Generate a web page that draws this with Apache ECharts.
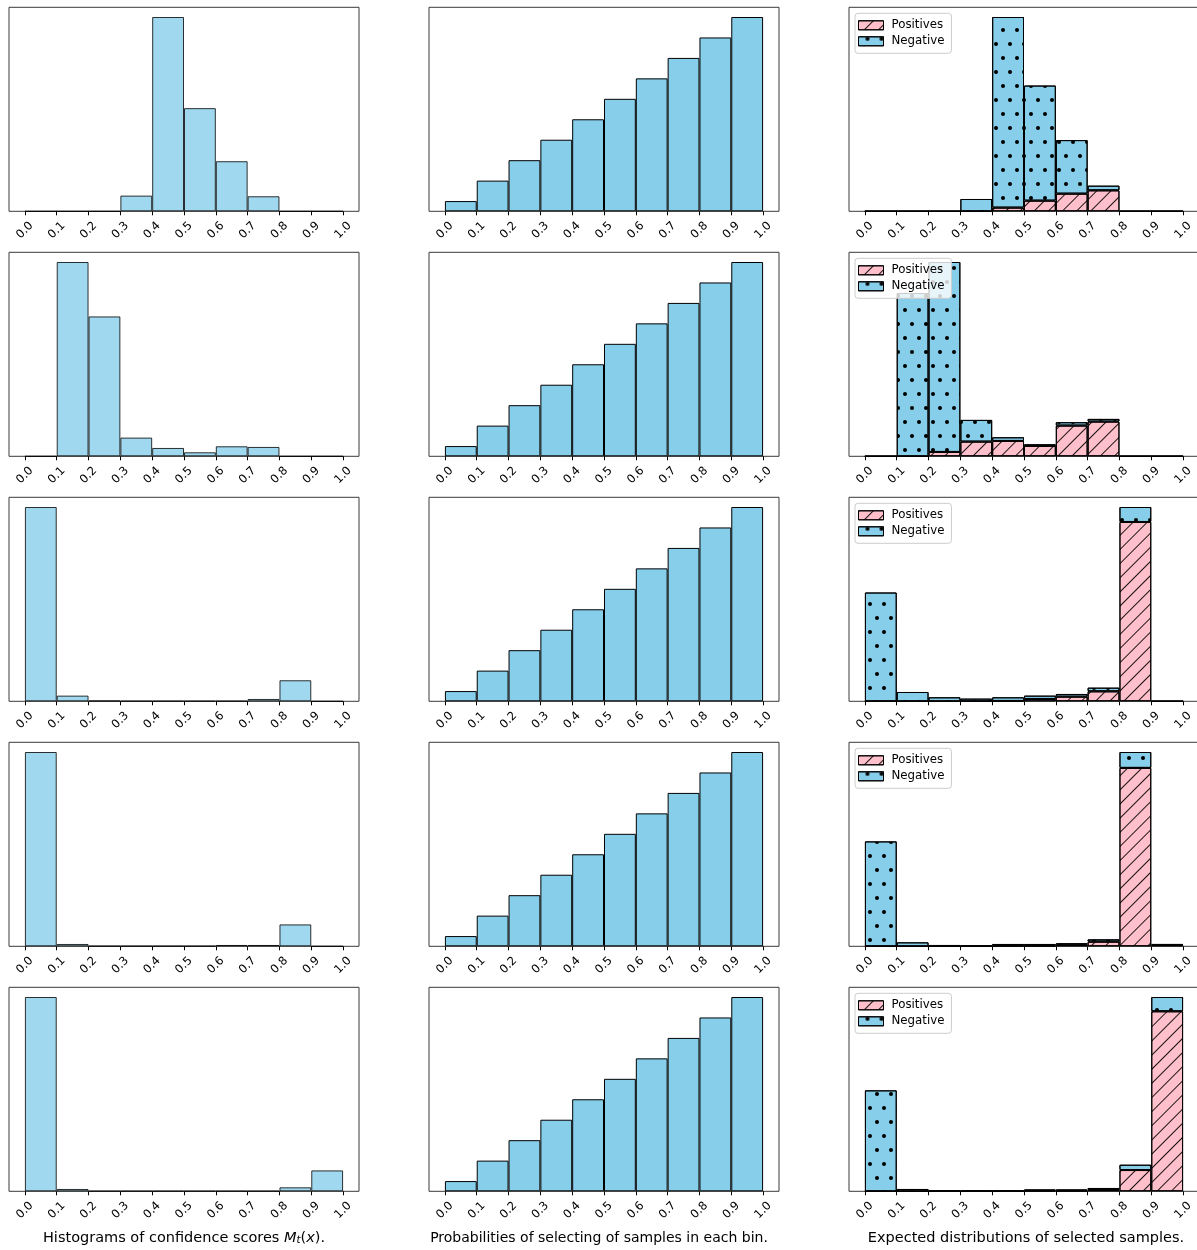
<!DOCTYPE html>
<html>
<head>
<meta charset="utf-8">
<script src="https://cdn.jsdelivr.net/npm/echarts@6/dist/echarts.min.js"></script>
<style>
  html, body { margin: 0; padding: 0; background: #ffffff; }
  #chart { width: 1197px; height: 1250px; }
</style>
</head>
<body>
<div id="chart"></div>
<script>
// Bin edges / tick labels on every x axis
const tickLabels = ['0.0', '0.1', '0.2', '0.3', '0.4', '0.5', '0.6', '0.7', '0.8', '0.9', '1.0'];

// Column 1: histograms of confidence scores, one list per round (relative counts)
const confidenceHist = [
  [0, 0, 0, 47, 582, 309, 150, 45, 0, 0],
  [0, 582, 419, 56, 25, 12, 30, 28, 0, 0],
  [582, 17, 2, 1, 1, 1, 1, 7, 63, 0],
  [586, 7, 1, 1, 1, 1, 4, 4, 66, 0],
  [586, 7, 1, 1, 1, 1, 1, 1, 12, 63]
];

// Column 2: probability of selecting a sample from each bin
const selectProb = [0.05, 0.15, 0.25, 0.35, 0.45, 0.55, 0.65, 0.75, 0.85, 0.95];

// Column 3: expected distribution of selected samples (stacked)
const positives = [
  [0, 0, 0, 0, 11, 32, 53, 63, 0, 0],
  [0, 0, 13, 44, 46, 31, 92, 104, 0, 0],
  [0, 0, 0, 0, 1, 7, 14, 30, 539, 0],
  [0, 0, 0, 0, 2, 2, 5, 14, 539, 4],
  [0, 0, 0, 0, 0, 2, 2, 4, 64, 542]
];
const negatives = [
  [0, 0, 0, 37, 573, 346, 161, 14, 0, 0],
  [0, 489, 569, 65, 11, 5, 10, 8, 0, 0],
  [327, 28, 12, 8, 11, 10, 8, 11, 45, 0],
  [317, 12, 4, 2, 5, 5, 4, 7, 48, 3],
  [304, 7, 2, 2, 2, 3, 3, 6, 16, 43]
];

const legendNames = ['Positives', 'Negative'];

const FONT = "'DejaVu Sans', sans-serif";
const SKY = '#87ceeb';
const PINK = '#ffc0cb';
const COL_LEFT = [9, 429, 849];
const ROW_TOP = [7.3, 252.3, 497.3, 742.3, 987.3];
const BOX_W = 350;
const BOX_H = 204;
const PAD = BOX_W * 0.05 / 1.1;   // 5% data margin on both sides of [0, 1]

const tickValues = tickLabels.map(Number);
const binNames = tickLabels.slice(0, -1).map((t, i) => t + '-' + tickLabels[i + 1]);

// hatch patterns: '/' lines for positives, staggered dots for negatives
const hatchDecal = {
  symbol: 'rect', symbolSize: 1, color: 'rgba(0,0,0,0.9)',
  dashArrayX: [1, 0], dashArrayY: [1, 9], rotation: -Math.PI / 4
};
const dotDecal = {
  symbol: 'circle', symbolSize: 1, color: '#000',
  dashArrayX: [[4, 10], [0, 7, 4, 3]], dashArrayY: [4, 10], rotation: 0
};

const grid = [], xAxis = [], yAxis = [], series = [], legend = [];

function addPanel(r, c) {
  const L = COL_LEFT[c], T = ROW_TOP[r];
  const k = grid.length;
  // framed axes with ticks
  grid.push({
    left: L, top: T, width: BOX_W, height: BOX_H,
    show: true, borderColor: '#3a3a3a', borderWidth: 1, backgroundColor: 'rgba(0,0,0,0)',
    containLabel: false, outerBoundsMode: 'none'
  });
  xAxis.push({
    gridIndex: k, type: 'value', min: -0.05, max: 1.05,
    axisLine: { show: false }, splitLine: { show: false },
    axisTick: { show: true, customValues: tickValues, length: 4, lineStyle: { color: '#000', width: 1 } },
    axisLabel: {
      customValues: tickValues,
      formatter: v => tickLabels[Math.round(v * 10)],
      rotate: 45, align: 'center', verticalAlign: 'middle', margin: 19,
      fontSize: 11.6, fontFamily: FONT, color: '#000'
    }
  });
  yAxis.push({ gridIndex: k, type: 'value', min: 0, max: 1, show: false });
  // data region [0, 1] for the bins
  grid.push({
    left: L + PAD, top: T, width: BOX_W - 2 * PAD, height: BOX_H,
    show: false, containLabel: false, outerBoundsMode: 'none'
  });
  xAxis.push({ gridIndex: k + 1, type: 'category', data: binNames, show: false });
  yAxis.push({ gridIndex: k + 1, type: 'value', min: 0, max: v => v.max * 1.05, show: false });
  return k + 1;
}

for (let r = 0; r < 5; r++) {
  // column 1
  let idx = addPanel(r, 0);
  series.push({
    type: 'bar', xAxisIndex: idx, yAxisIndex: idx, data: confidenceHist[r],
    barWidth: '100%', silent: true,
    itemStyle: { color: 'rgba(135,206,235,0.8)', borderColor: 'rgba(0,0,0,0.8)', borderWidth: 1 }
  });
  // column 2
  idx = addPanel(r, 1);
  series.push({
    type: 'bar', xAxisIndex: idx, yAxisIndex: idx, data: selectProb,
    barWidth: '100%', silent: true,
    itemStyle: { color: SKY, borderColor: '#000', borderWidth: 1 }
  });
  // column 3
  idx = addPanel(r, 2);
  series.push({
    name: legendNames[0], type: 'bar', xAxisIndex: idx, yAxisIndex: idx, data: positives[r],
    stack: 'sel' + r, barWidth: '100%', silent: true,
    itemStyle: { color: PINK, borderColor: '#000', borderWidth: 1, decal: hatchDecal }
  });
  series.push({
    name: legendNames[1], type: 'bar', xAxisIndex: idx, yAxisIndex: idx, data: negatives[r],
    stack: 'sel' + r, barWidth: '100%', silent: true,
    itemStyle: { color: SKY, borderColor: '#000', borderWidth: 1, decal: dotDecal }
  });
  legend.push({
    data: legendNames, orient: 'vertical',
    left: COL_LEFT[2] + 6, top: ROW_TOP[r] + 6,
    itemWidth: 25, itemHeight: 9, itemGap: 4,
    padding: [6, 7, 6, 3],
    backgroundColor: 'rgba(255,255,255,0.8)', borderColor: '#cccccc', borderWidth: 1, borderRadius: 3,
    selectedMode: false, icon: 'rect',
    itemStyle: { borderWidth: 1, borderColor: '#000' },
    textStyle: { fontSize: 11.8, fontFamily: FONT, color: '#000', padding: [0, 0, 0, 3] }
  });
}

// captions under each column
const captionStyle = { fontSize: 14.5, fontFamily: FONT, fill: '#000', align: 'center', verticalAlign: 'middle' };
const graphic = [
  {
    type: 'text', x: 184, y: 1238,
    style: Object.assign({}, captionStyle, {
      text: '{n|Histograms of confidence scores }{i|M}{s|t}{n|(}{i|x}{n|).}',
      rich: {
        n: { fontSize: 14.5, fontFamily: FONT },
        i: { fontSize: 14.5, fontFamily: FONT, fontStyle: 'italic' },
        s: { fontSize: 10.2, fontFamily: FONT, fontStyle: 'italic', verticalAlign: 'bottom' }
      }
    })
  },
  { type: 'text', x: 599, y: 1238, style: Object.assign({}, captionStyle, { text: 'Probabilities of selecting of samples in each bin.', fontSize: 14 }) },
  { type: 'text', x: 1026, y: 1238, style: Object.assign({}, captionStyle, { text: 'Expected distributions of selected samples.' }) }
];

const chart = echarts.init(document.getElementById('chart'), null, { renderer: 'canvas' });
chart.setOption({
  animation: false,
  backgroundColor: '#ffffff',
  textStyle: { fontFamily: FONT },
  grid, xAxis, yAxis, series, legend, graphic
});
</script>
</body>
</html>
